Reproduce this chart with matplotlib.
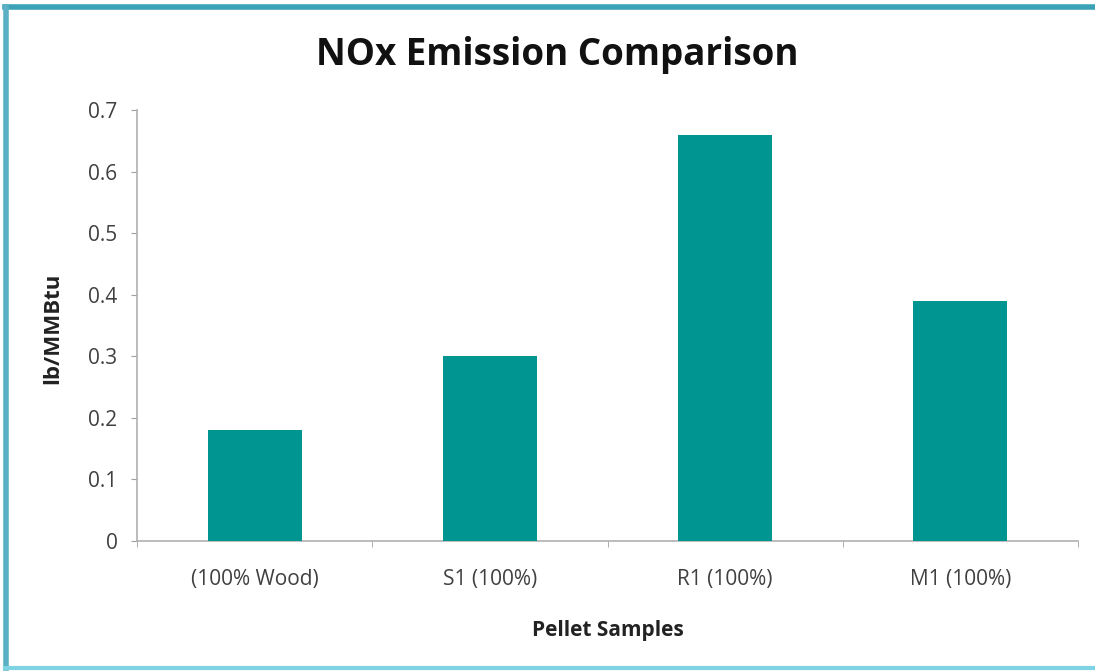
import matplotlib
matplotlib.use("Agg")
import matplotlib.pyplot as plt
from matplotlib.lines import Line2D

categories = ["(100% Wood)", "S1 (100%)", "R1 (100%)", "M1 (100%)"]
values = [0.18, 0.30, 0.66, 0.39]
yticks = [0, 0.1, 0.2, 0.3, 0.4, 0.5, 0.6, 0.7]
ytick_labels = ["0", "0.1", "0.2", "0.3", "0.4", "0.5", "0.6", "0.7"]

plt.rcParams['font.family'] = ['Open Sans', 'DejaVu Sans']

fig = plt.figure(figsize=(10.95, 6.71), dpi=100)
ax = fig.add_axes([0.1251, 0.1937, 0.9845 - 0.1251, 0.836 - 0.1937])

x = list(range(len(categories)))
ax.bar(x, values, width=0.4, color="#009591", zorder=3)

ax.set_xlim(-0.5, len(categories) - 0.5)
ax.set_ylim(0, 0.7)
ax.set_yticks(yticks)
ax.set_yticklabels(ytick_labels, fontsize=15, color="#404040")
ax.set_xticks(x)
ax.set_xticklabels(categories, fontsize=15, color="#404040")
ax.tick_params(axis='x', length=0, pad=20)
ax.tick_params(axis='y', length=4, color="#a0a0a0", pad=10)
ax.set_xticks([i - 0.5 for i in range(len(categories) + 1)], minor=True)
ax.tick_params(axis='x', which='minor', length=4, color="#a0a0a0")

for s in ["top", "right"]:
    ax.spines[s].set_visible(False)
for s in ["left", "bottom"]:
    ax.spines[s].set_color("#b0b0b0")
    ax.spines[s].set_linewidth(1.2)

fig.text(0.509, 0.918, "NOx Emission Comparison", ha="center", va="center",
         fontsize=26.5, fontweight="bold", color="#111111")
fig.text(0.048, 0.51, "lb/MMBtu", ha="center", va="center", rotation=90,
         fontsize=16, fontweight="bold", color="#222222")
fig.text(0.555, 0.061, "Pellet Samples", ha="center", va="center",
         fontsize=15, fontweight="bold", color="#222222")

# border
fig.add_artist(Line2D([0.005, 1.0], [0.99, 0.99], transform=fig.transFigure,
                      color="#3ba2b8", linewidth=4))
fig.add_artist(Line2D([0.0055, 0.0055], [0.0045, 0.99], transform=fig.transFigure,
                      color="#5ab0c4", linewidth=4))
fig.add_artist(Line2D([0.005, 1.0], [0.0045, 0.0045], transform=fig.transFigure,
                      color="#7ed4e2", linewidth=3))

fig.savefig("out.png", dpi=100)
